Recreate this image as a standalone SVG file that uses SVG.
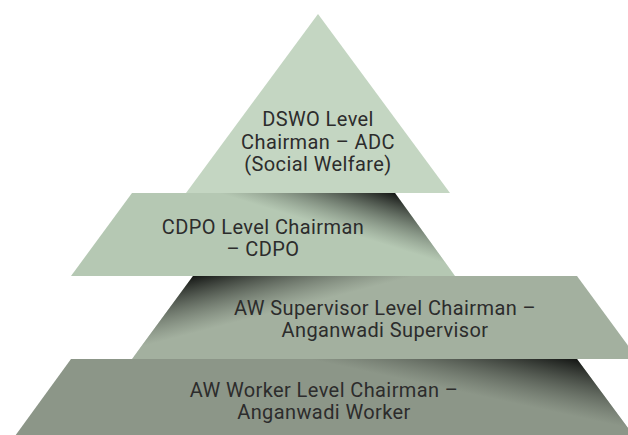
<svg xmlns="http://www.w3.org/2000/svg" width="628" height="435" viewBox="0 0 628 435">
  <style>
    .lbl { font-family: Roboto, "Liberation Sans", sans-serif; font-size: 20px; letter-spacing: 0.4px; fill: #2c2c2c; text-anchor: middle; }
  </style>
  <defs>
    <linearGradient id="g2" gradientUnits="userSpaceOnUse" x1="376.8" y1="251.7" x2="395" y2="193">
      <stop offset="0" stop-color="#b5c8b3" stop-opacity="0"/>
      <stop offset="0.15" stop-color="#b5c8b3" stop-opacity="0.6"/>
      <stop offset="1" stop-color="#141614"/>
    </linearGradient>
    <linearGradient id="g3" gradientUnits="userSpaceOnUse" x1="209.3" y1="339.1" x2="193" y2="276">
      <stop offset="0" stop-color="#a3b09f" stop-opacity="0"/>
      <stop offset="0.15" stop-color="#a3b09f" stop-opacity="0.6"/>
      <stop offset="1" stop-color="#141614"/>
    </linearGradient>
    <linearGradient id="g4" gradientUnits="userSpaceOnUse" x1="563" y1="424" x2="577" y2="359">
      <stop offset="0" stop-color="#8c9688" stop-opacity="0"/>
      <stop offset="0.15" stop-color="#8c9688" stop-opacity="0.6"/>
      <stop offset="1" stop-color="#141614"/>
    </linearGradient>
  </defs>

  <g id="layer4">
    <polygon points="71,359 577,359 634,436 15,436" fill="#8c9688"/>
    <polygon points="132,359 577,359 628,428 632,430" fill="url(#g4)"/>
    <text class="lbl" x="324" y="397">AW Worker Level Chairman –</text>
    <text class="lbl" x="324" y="419">Anganwadi Worker</text>
  </g>

  <g id="layer3">
    <polygon points="193,276 577,276 638,359 132,359" fill="#a3b09f"/>
    <polygon points="193,276 455,276 132,359" fill="url(#g3)"/>
    <text class="lbl" x="385" y="315">AW Supervisor Level Chairman –</text>
    <text class="lbl" x="385" y="337">Anganwadi Supervisor</text>
  </g>

  <g id="layer2">
    <polygon points="132,193 395,193 455,276 71,276" fill="#b5c8b3"/>
    <polygon points="188,193 395,193 455,276" fill="url(#g2)"/>
    <text class="lbl" x="263" y="234">CDPO Level Chairman</text>
    <text class="lbl" x="263" y="256">– CDPO</text>
  </g>

  <g id="layer1">
    <polygon points="318,14 450,193 186,193" fill="#c4d6c2"/>
    <text class="lbl" x="318" y="126">DSWO Level</text>
    <text class="lbl" x="318" y="148.5">Chairman – ADC</text>
    <text class="lbl" x="318" y="171">(Social Welfare)</text>
  </g>

  <g id="connectors"/>
</svg>
